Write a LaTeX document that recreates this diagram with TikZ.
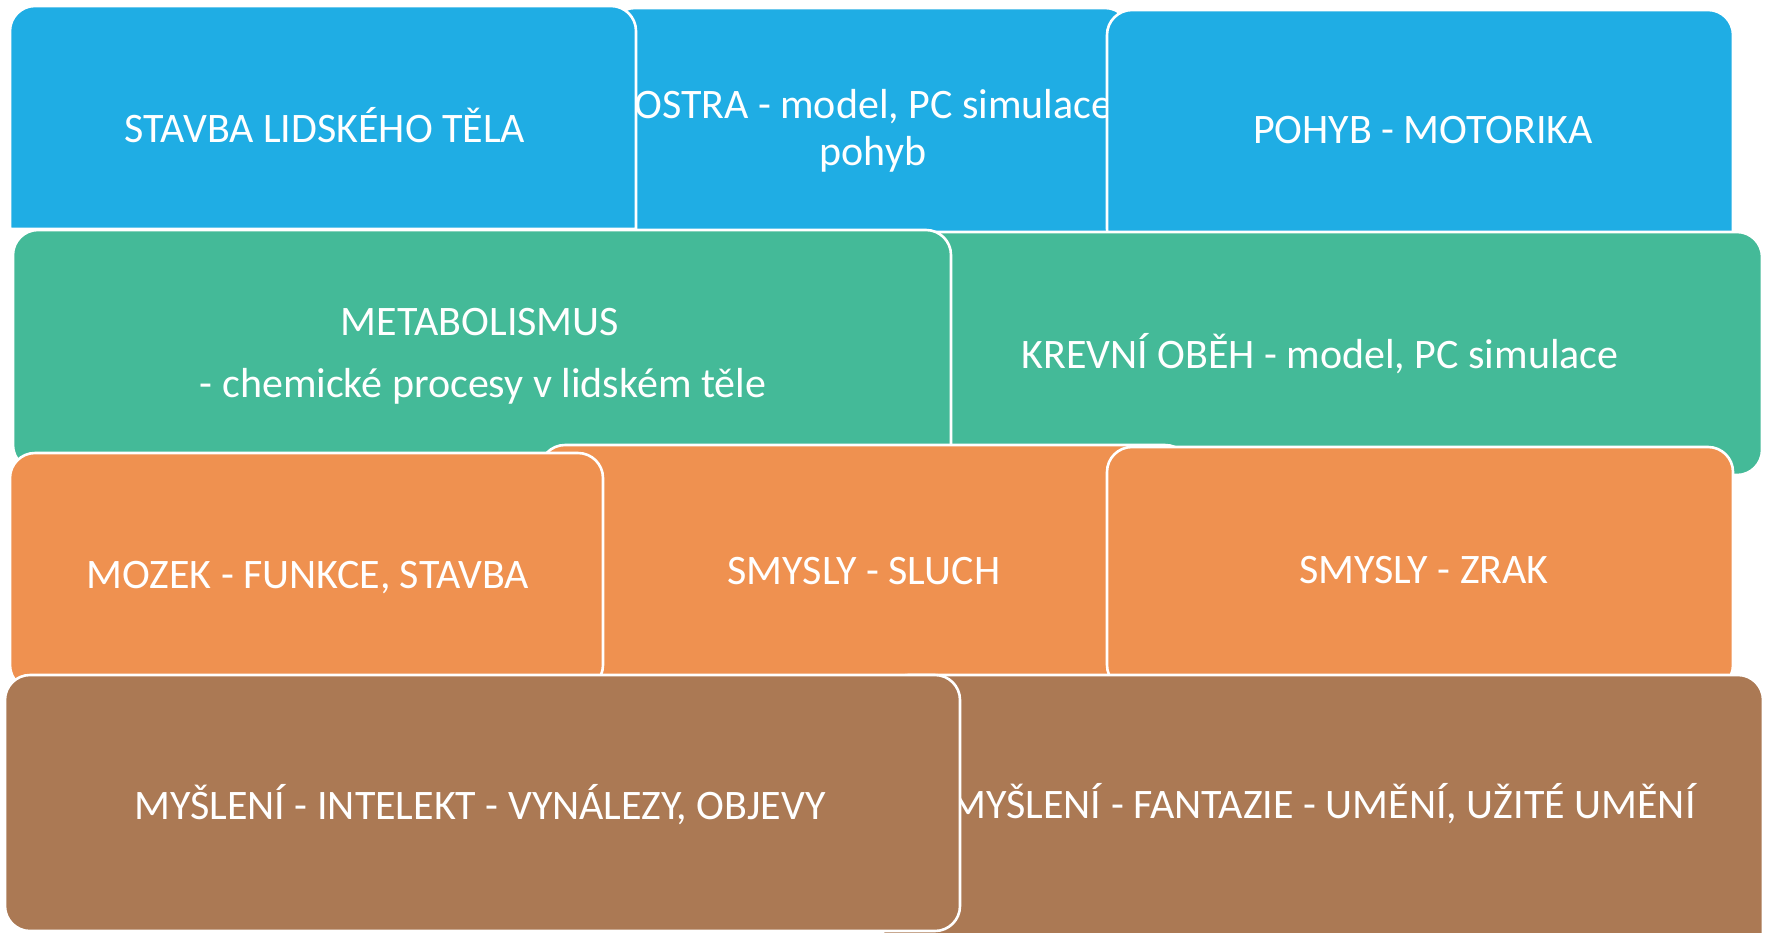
\documentclass[tikz,border=0pt]{standalone}
\usepackage{fontspec}
\setmainfont{Carlito}
\definecolor{cblue}{RGB}{31,173,228}
\definecolor{cgreen}{RGB}{68,186,152}
\definecolor{corange}{RGB}{239,145,80}
\definecolor{cbrown}{RGB}{171,121,84}
\begin{document}
\begin{tikzpicture}[x=1pt,y=-1pt,
  box/.style={draw=white, line width=2.6pt, rounded corners=25pt, anchor=north west, inner sep=0pt, outer sep=0pt},
  lbl/.style={text=white, inner sep=0pt, anchor=base, font=\fontsize{42}{50}\selectfont}]
\useasboundingbox[fill=white] (0,0) rectangle (1766,932);
% row 1 (blue)
\node[box, fill=cblue, minimum width=520pt, minimum height=246pt] (B) at (610,8) {};
\node[lbl, anchor=base west] (Bt1) at (634,118) {OSTRA - model, PC simulace};
\node[lbl] (Bt2) at (873,165) {pohyb};
\path[fill=cblue, draw=white, line width=2.6pt] (10,229) [rounded corners=25pt] -- (10,6) -- (636,6) [sharp corners] -- (636,229) -- cycle;
\coordinate (A) at (323,117);
\node[lbl] (At) at (325,142) {STAVBA LIDSKÉHO TĚLA};
\node[box, fill=cblue, minimum width=626pt, minimum height=244pt] (C) at (1107,10) {};
\node[lbl] (Ct) at (1423,143) {POHYB - MOTORIKA};
% row 2 (green)
\node[box, fill=cgreen, minimum width=884pt, minimum height=243pt] (E) at (878,232) {};
\node[lbl] (Et) at (1320,368) {KREVNÍ OBĚH - model, PC simulace};
\node[box, fill=cgreen, minimum width=938pt, minimum height=240pt] (D) at (13,230) {};
\node[lbl] (Dt1) at (480,335) {METABOLISMUS};
\node[lbl] (Dt2) at (483,397) {- chemické procesy v lidském těle};
% row 3 (orange)
\node[box, fill=corange, minimum width=650pt, minimum height=245pt] (F2) at (540,445) {};
\node[lbl] (F2t) at (864,584) {SMYSLY - SLUCH};
\node[box, fill=corange, minimum width=593pt, minimum height=237pt] (F1) at (10,453) {};
\node[lbl] (F1t) at (308,588) {MOZEK - FUNKCE, STAVBA};
\node[box, fill=corange, minimum width=626pt, minimum height=243pt] (F3) at (1107,447) {};
\node[lbl] (F3t) at (1424,583) {SMYSLY - ZRAK};
% row 4 (brown)
\node[box, fill=cbrown, minimum width=880pt, minimum height=285pt] (G2) at (883,675) {};
\node[lbl] (G2t) at (1323,818) {MYŠLENÍ - FANTAZIE - UMĚNÍ, UŽITÉ UMĚNÍ};
\node[box, fill=cbrown, minimum width=955pt, minimum height=256pt] (G1) at (5,675) {};
\node[lbl] (G1t) at (480,819) {MYŠLENÍ - INTELEKT - VYNÁLEZY, OBJEVY};
\end{tikzpicture}
\end{document}
